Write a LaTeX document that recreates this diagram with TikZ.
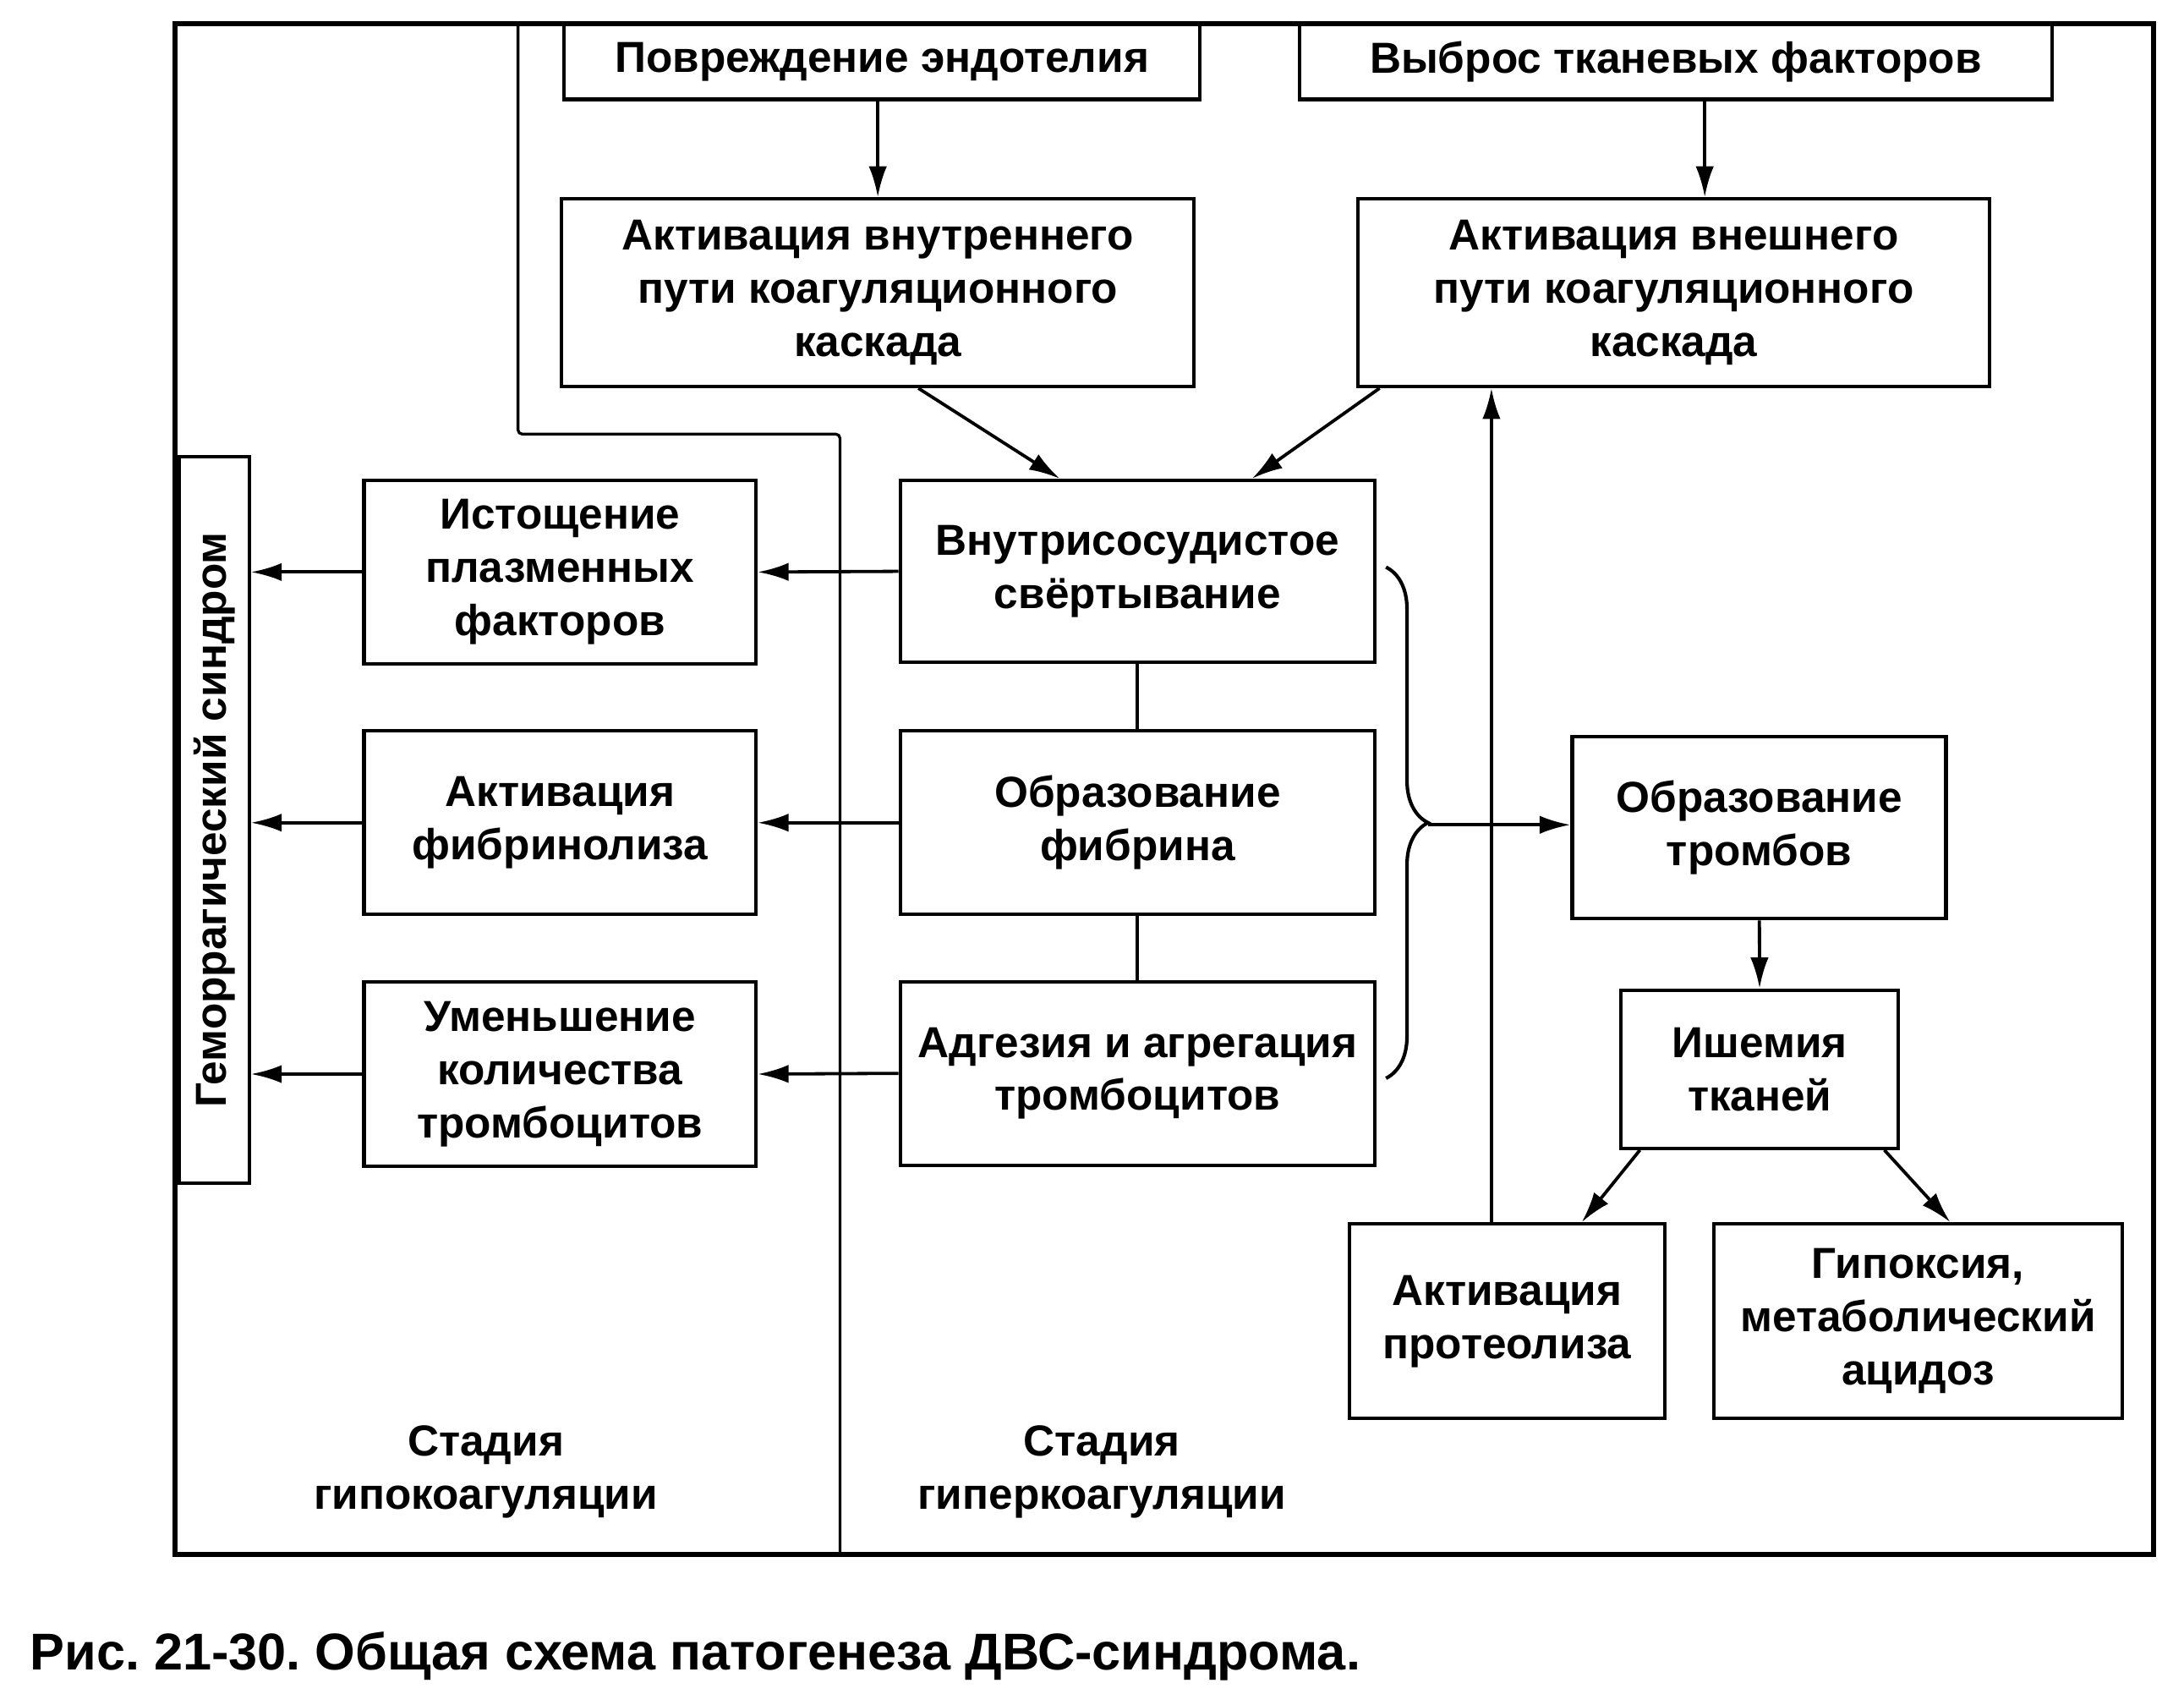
\documentclass[tikz,border=0pt]{standalone}
\usepackage{fontspec}
\setmainfont{Liberation Sans}
\usetikzlibrary{arrows.meta,decorations.pathreplacing}
\frenchspacing
\begin{document}
\begin{tikzpicture}[x=1pt, y=-1pt, >={Latex[length=22pt,width=13pt]},
  main node/.style={draw,line width=2.5pt,align=center,inner sep=0pt},
  arrow/.style={->,line width=2.3pt},
  link/.style={line width=2.3pt}]
\useasboundingbox (0,0) rectangle (1560,1209.6);
% frame and stages
\draw[line width=3.5pt] (125,17) rectangle (1538,1110);
\draw[line width=2pt,rounded corners=3pt] (370,17) -- (370,310) -- (600,310) -- (600,1110);
\begin{scope}[every node/.style={font=\bfseries\fontsize{31}{38}\selectfont}]
\node[main node,minimum width=454,minimum height=54] (inj) at (630,44) {Повреждение эндотелия};
\node[main node,minimum width=538,minimum height=54] (tf) at (1197,44) {Выброс тканевых факторов};
\node[main node,minimum width=452,minimum height=134] (intr) at (627,209) {Активация внутреннего\\пути коагуляционного\\каскада};
\node[main node,minimum width=451,minimum height=134] (extr) at (1195.5,209) {Активация внешнего\\пути коагуляционного\\каскада};
\node[main node,minimum width=339,minimum height=130] (clot) at (812.5,408) {Внутрисосудистое\\свёртывание};
\node[main node,minimum width=339,minimum height=131] (fib) at (812.5,587.5) {Образование\\фибрина};
\node[main node,minimum width=339,minimum height=131] (adh) at (812.5,766.5) {Адгезия и агрегация\\тромбоцитов};
\node[main node,minimum width=280,minimum height=131] (depl) at (400,408.5) {Истощение\\плазменных\\факторов};
\node[main node,minimum width=280,minimum height=131] (lysis) at (400,587.5) {Активация\\фибринолиза};
\node[main node,minimum width=280,minimum height=132] (plt) at (400,767) {Уменьшение\\количества\\тромбоцитов};
\node[main node,minimum width=267,minimum height=130] (thr) at (1256.5,591) {Образование\\тромбов};
\node[main node,minimum width=198,minimum height=113] (isch) at (1257,763.5) {Ишемия\\тканей};
\node[main node,minimum width=225,minimum height=139] (prot) at (1076.5,943.5) {Активация\\протеолиза};
\node[main node,minimum width=292,minimum height=139] (hyp) at (1370,943.5) {Гипоксия,\\метаболический\\ацидоз};
\node[main node,rotate=90,minimum width=519,minimum height=50] (hem) at (153,585.5) {Геморрагический синдром};
\node[align=center] (hypo) at (347,1051) {Стадия\\гипокоагуляции};
\node[align=center] (hyper) at (787,1051) {Стадия\\гиперкоагуляции};
\end{scope}
\node[anchor=west,font=\bfseries\fontsize{37}{42}\selectfont] (cap) at (18,1183) {Рис. 21-30. Общая схема патогенеза ДВС-синдрома.};
% connectors
\draw[arrow] (intr.north |- inj.south) -- (intr.north);
\draw[arrow] (extr.72 |- tf.south) -- (extr.72);
\draw[arrow] (intr.-67) -- (clot.130);
\draw[arrow] (extr.198) -- (clot.39);
\draw[arrow] (clot.west) -- (depl.east);
\draw[arrow] (fib.west) -- (lysis.east);
\draw[arrow] (adh.west) -- (plt.east);
\foreach \n in {depl,lysis,plt}
  \draw[arrow] (\n.west) -- (\n.west -| hem.south);
\draw[link] (clot) -- (fib);
\draw[link] (fib) -- (adh);
\draw[line width=2.5pt,decorate,decoration={brace,amplitude=30pt}] (990,405) -- (990,770);
\coordinate (bt) at (1020,589);
\draw[arrow] (bt) -- (bt -| thr.west);
\draw[arrow] (thr) -- (isch);
\draw[arrow] (isch.214) -- (prot.53);
\draw[arrow] (isch.-33) -- (hyp.72);
\draw[arrow] (prot.99) -- (prot.99 |- extr.south);
\end{tikzpicture}
\end{document}
